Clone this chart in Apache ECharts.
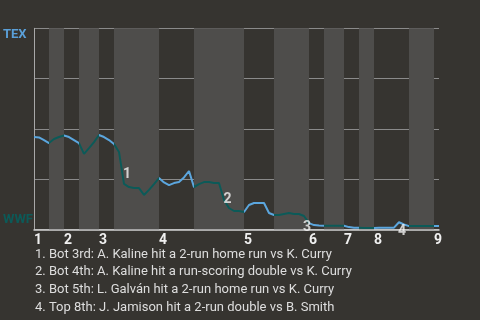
<!DOCTYPE html>
<html><head><meta charset="utf-8">
<script src="https://cdn.jsdelivr.net/npm/echarts@6/dist/echarts.min.js"></script>
<style>html,body{margin:0;padding:0;background:#363430}#c{width:480px;height:320px}</style>
</head><body><div id="c"></div>
<script>
// Plate-appearance index where each half inning starts (last value = end of data)
const halfStarts = [0,3,6,9,13,16,25,32,42,48,55,58,62,65,68,75,80,81];
const inningLabels = ['1','2','3','4','5','6','7','8','9'];
// TEX win probability after each plate appearance
const winProb = [
 0.459,0.457,0.444,0.429,0.449,0.459,0.467,0.459,0.444,0.429,
 0.375,0.404,0.434,0.469,0.459,0.444,0.424,0.385,0.226,0.210,
 0.205,0.205,0.171,0.196,0.225,0.255,0.233,0.220,0.230,0.235,
 0.258,0.290,0.210,0.225,0.235,0.235,0.230,0.230,0.146,0.106,
 0.091,0.091,0.086,0.121,0.131,0.131,0.131,0.081,0.071,0.071,
 0.076,0.081,0.076,0.076,0.066,0.031,0.021,0.019,0.018,0.018,
 0.018,0.018,0.018,0.011,0.008,0.008,0.006,0.006,0.006,0.008,
 0.008,0.008,0.008,0.035,0.024,0.016,0.016,0.016,0.016,0.016,
 0.016,0.016];
const teams = ['TEX','WWF'];
// annotation markers: number, PA index, prob
const noteNums = ['1','2','3','4'];
const noteX = [18.6, 38.7, 54.6, 73.6];
const noteY = [0.275, 0.146, 0.011, -0.013];
const notes = [
 '1. Bot 3rd: A. Kaline hit a 2-run home run vs K. Curry',
 '2. Bot 4th: A. Kaline hit a run-scoring double vs K. Curry',
 '3. Bot 5th: L. Galván hit a 2-run home run vs K. Curry',
 '4. Top 8th: J. Jamison hit a 2-run double vs B. Smith'
];

const BLUE = '#5ba6de', TEAL = '#0c5a58';
const inningStarts = halfStarts.filter((v,i)=>i%2===0 && i<halfStarts.length-1);
const lineData = winProb.map((v,i)=>[i,v]);
const bands = [];
const pieces = [];
for (let i=0;i<halfStarts.length-1;i++){
  const a = halfStarts[i], b = halfStarts[i+1];
  if (i%2===1) bands.push([{xAxis:a},{xAxis:b}]);
  const p = {gte:a, color: i%2===0 ? BLUE : TEAL};
  if (i===halfStarts.length-2) p.lte=b; else p.lt=b;
  pieces.push(p);
}
const chart = echarts.init(document.getElementById('c'));
chart.setOption({
  backgroundColor:'#363430',
  animation:false,
  grid:{left:33,right:41,top:28.3,bottom:90.7},
  xAxis:{type:'value',min:0,max:halfStarts[halfStarts.length-1],interval:1,
    axisLine:{show:true,onZero:false,lineStyle:{color:'#d2d2d2',width:1.5}},
    axisTick:{show:false},splitLine:{show:false},
    axisLabel:{margin:4,align:'left',color:'#f0f0f0',fontFamily:'Roboto',fontWeight:'bold',fontSize:14,
      formatter:v=>{const i=inningStarts.indexOf(v);return i>=0?inningLabels[i]:'';}}},
  yAxis:{type:'value',min:0,max:1,interval:0.25,
    axisLine:{show:true,lineStyle:{color:'#a8a8a8'}},axisTick:{show:false},
    splitLine:{show:true,lineStyle:{color:'#8a8a8a',width:1}},
    axisLabel:{margin:31,align:'left',
      formatter:v=>v===1?'{t|'+teams[0]+'}':(v===0?'{w|'+teams[1]+'}':''),
      rich:{t:{color:'#5a9fd8',fontFamily:'Roboto',fontWeight:'bold',fontSize:13,padding:[12,0,0,0]},
            w:{color:TEAL,fontFamily:'Roboto',fontWeight:'bold',fontSize:13,padding:[0,0,19,0]}}}},
  visualMap:{type:'piecewise',show:false,dimension:0,seriesIndex:0,pieces:pieces},
  series:[{type:'line',data:lineData,symbol:'none',lineStyle:{width:2},
      markArea:{silent:true,itemStyle:{color:'#4e4d4b'},data:bands},z:3},
    {type:'scatter',clip:false,symbolSize:0,z:5,
      data:noteNums.map((n,i)=>({value:[noteX[i],noteY[i]],name:n})),
      label:{show:true,position:'inside',formatter:p=>p.name,color:'#f4f4f4',fontFamily:'Roboto',fontWeight:'bold',fontSize:14}}],
  graphic:[{type:'text',left:35,top:245.4,
    style:{text:notes.join('\n'),fill:'#dedede',font:'13px Roboto',lineHeight:17.8}}]
});
</script></body></html>
